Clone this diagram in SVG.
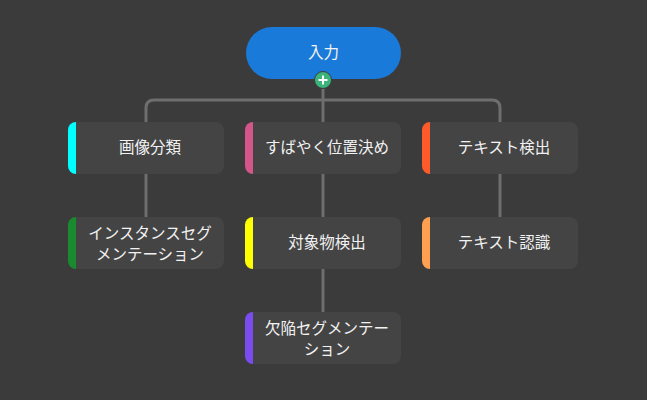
<svg xmlns="http://www.w3.org/2000/svg" width="647" height="400" viewBox="0 0 647 400">
<style>
.card{fill:#444444}
.t{font-family:"Noto Sans CJK JP","Noto Sans",sans-serif;font-size:15.5px;fill:#f2f2f2;text-anchor:middle}
.c{fill:none;stroke:#6e6e6e;stroke-width:3}
</style>
<defs><clipPath id="cl"><rect x="0" y="0" width="156" height="52" rx="8"/></clipPath></defs>
<rect width="647" height="400" fill="#3b3b3b"/>
<g id="connectors">
<path class="c" d="M146 122V108Q146 100 154 100H492Q500 100 500 108V122M323 88V122M146 174V217M323 174V312M500 174V217"/>
</g>
<g id="n0"><rect x="246" y="27" width="155" height="52" rx="26" fill="#1a7ad9"/><text class="t" x="323.5" y="58">入力</text></g>
<g id="plus"><circle cx="323" cy="80" r="8.5" fill="#3cb37b" stroke="#3b3b3b" stroke-width="1"/><path d="M318.5 80h9M323 75.5v9" stroke="#fff" stroke-width="2"/></g>
<g id="n1" transform="translate(68,122)"><g clip-path="url(#cl)"><rect class="card" width="156" height="52"/><rect width="8" height="52" fill="#00ffff"/></g><text class="t" x="82" y="31">画像分類</text></g>
<g id="n2" transform="translate(245,122)"><g clip-path="url(#cl)"><rect class="card" width="156" height="52"/><rect width="8" height="52" fill="#d4558a"/></g><text class="t" x="82" y="31">すばやく位置決め</text></g>
<g id="n3" transform="translate(422,122)"><g clip-path="url(#cl)"><rect class="card" width="156" height="52"/><rect width="8" height="52" fill="#ff5a2a"/></g><text class="t" x="82" y="31">テキスト検出</text></g>
<g id="n4" transform="translate(68,217)"><g clip-path="url(#cl)"><rect class="card" width="156" height="52"/><rect width="8" height="52" fill="#1a8a2e"/></g><text class="t" x="82" y="22">インスタンスセグ</text><text class="t" x="82" y="43">メンテーション</text></g>
<g id="n5" transform="translate(245,217)"><g clip-path="url(#cl)"><rect class="card" width="156" height="52"/><rect width="8" height="52" fill="#ffff00"/></g><text class="t" x="82" y="31">対象物検出</text></g>
<g id="n6" transform="translate(422,217)"><g clip-path="url(#cl)"><rect class="card" width="156" height="52"/><rect width="8" height="52" fill="#ffa050"/></g><text class="t" x="82" y="31">テキスト認識</text></g>
<g id="n7" transform="translate(245,312)"><g clip-path="url(#cl)"><rect class="card" width="156" height="52"/><rect width="8" height="52" fill="#7a4cf0"/></g><text class="t" x="82" y="22">欠陥セグメンテー</text><text class="t" x="82" y="43">ション</text></g>
</svg>
